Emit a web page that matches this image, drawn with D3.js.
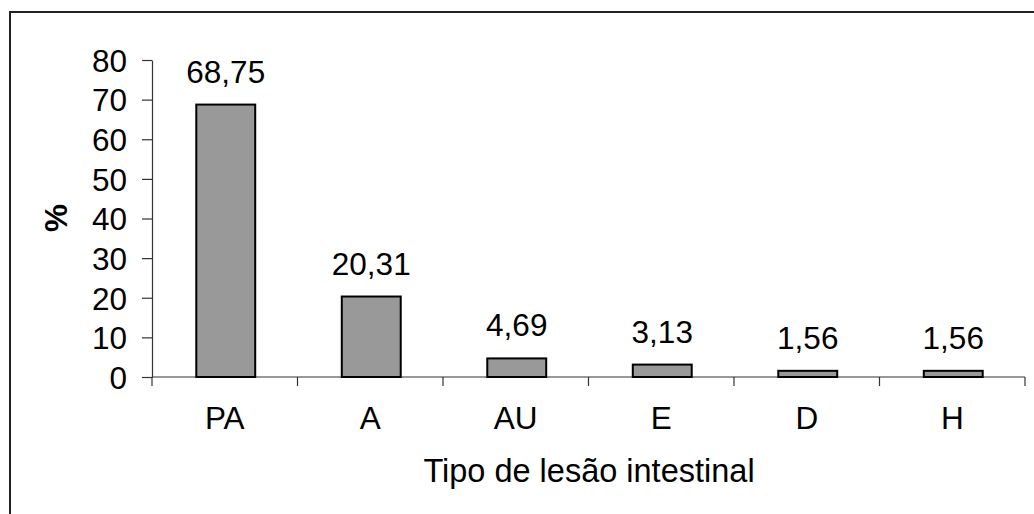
<!DOCTYPE html>
<html><head><meta charset="utf-8">
<script src="https://cdn.jsdelivr.net/npm/d3@7"></script>
<style>body{margin:0;background:#fff;} svg{display:block;}</style>
</head><body>
<svg id="c" width="1034" height="514"></svg>
<script>
const categories = ["PA","A","AU","E","D","H"];
const values = [68.75, 20.31, 4.69, 3.13, 1.56, 1.56];
const yTicks = [0,10,20,30,40,50,60,70,80];
const yTitle = "%";
const xTitle = "Tipo de lesão intestinal";

const svg = d3.select("#c");
const font = "Liberation Sans, Arial, sans-serif";
const fs = 31.5;
svg.append("rect").attr("x",10).attr("y",12).attr("width",1040).attr("height",520)
  .attr("fill","none").attr("stroke","#222").attr("stroke-width",2);

const x = d3.scaleBand().domain(categories).range([152,1025]).paddingInner(0).paddingOuter(0);
const y = d3.scaleLinear().domain([0,80]).range([377,60]);

const g = svg.append("g");
// y axis
const ya = g.append("g").attr("transform","translate(152,0)")
  .call(d3.axisLeft(y).tickValues(yTicks).tickSize(10).tickPadding(15).tickSizeOuter(0));
ya.select(".domain").attr("stroke","#333").attr("stroke-width",1.2);
ya.selectAll(".tick line").attr("stroke","#333").attr("stroke-width",1.2);
ya.selectAll("text").attr("font-family",font).attr("font-size",fs).attr("fill","#000").attr("dy","0.36em");

// x axis
const xa = g.append("g").attr("transform","translate(0,377)");
xa.append("line").attr("x1",152).attr("x2",1025).attr("stroke","#333").attr("stroke-width",1.2);
const bounds = categories.map(c=>x(c)).concat([x(categories[categories.length-1])+x.bandwidth()]);
xa.selectAll("line.t").data(bounds).join("line").attr("class","t")
  .attr("x1",d=>d).attr("x2",d=>d).attr("y1",0).attr("y2",9).attr("stroke","#333").attr("stroke-width",1.2);
xa.selectAll("text").data(categories).join("text")
  .attr("x",d=>x(d)+x.bandwidth()/2).attr("y",52).attr("text-anchor","middle")
  .attr("font-family",font).attr("font-size",fs).text(d=>d);

// bars
const bw = x.bandwidth()*0.405;
g.selectAll("rect.bar").data(values).join("rect").attr("class","bar")
  .attr("x",(d,i)=>x(categories[i])+x.bandwidth()/2-bw/2+1)
  .attr("y",d=>y(d)).attr("width",bw).attr("height",d=>y(0)-y(d))
  .attr("fill","#999999").attr("stroke","#000").attr("stroke-width",2);

// value labels
g.selectAll("text.val").data(values).join("text").attr("class","val")
  .attr("x",(d,i)=>x(categories[i])+x.bandwidth()/2+1)
  .attr("y",d=>y(d)-22).attr("text-anchor","middle")
  .attr("font-family",font).attr("font-size",fs)
  .text(d=>d.toFixed(2).replace(".",","));

// titles
svg.append("text").attr("x",589).attr("y",482).attr("text-anchor","middle")
  .attr("font-family",font).attr("font-size",32.5).text(xTitle);
svg.append("text").attr("transform","translate(67,218) rotate(-90)").attr("text-anchor","middle")
  .attr("font-family",font).attr("font-size",fs).attr("font-weight","bold").text(yTitle);
</script>
</body></html>
